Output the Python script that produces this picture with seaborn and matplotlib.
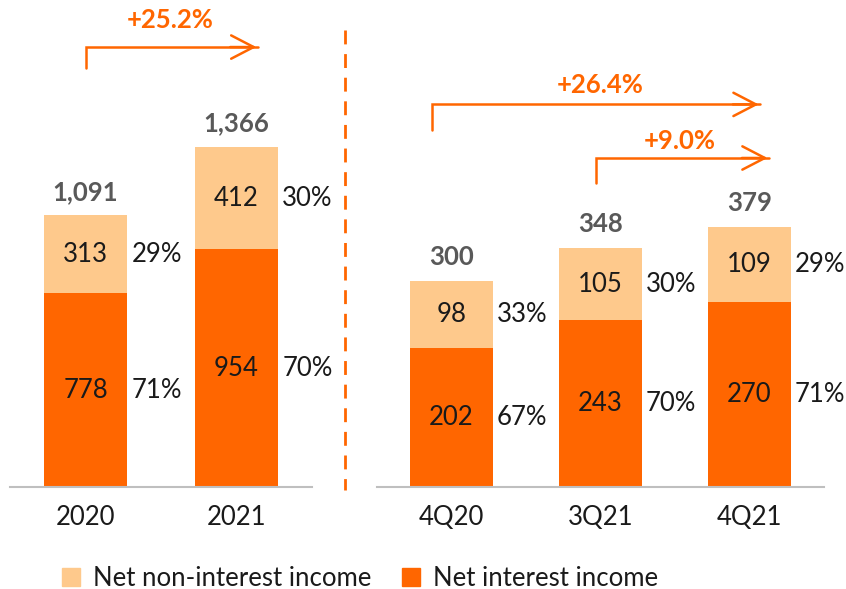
import numpy as np
import pandas as pd
import seaborn as sns
import matplotlib.pyplot as plt
from matplotlib.patches import Patch
from matplotlib.lines import Line2D

# data
years = ["2020", "2021"]
years_nii = [778, 954]
years_nonii = [313, 412]
quarters = ["4Q20", "3Q21", "4Q21"]
quarters_nii = [202, 243, 270]
quarters_nonii = [98, 105, 109]

dark = "#FF6600"
light = "#FEC98C"
grey = "#595959"
txt = "#1A1A1A"
FS = 18.5

sns.set_theme(style="white")
plt.rcParams["font.family"] = ["Lato", "DejaVu Sans"]

fig = plt.figure(figsize=(8.46, 5.89), dpi=100)
W, H = 846, 589


def px_axes(x0, x1, top, bottom):
    return fig.add_axes([x0 / W, 1 - bottom / H, (x1 - x0) / W, (bottom - top) / H])


ax1 = px_axes(10, 312, 0, 487)
ax2 = px_axes(377, 824, 0, 487)


def draw_panel(ax, cats, nii, nonii, ymax, width):
    df = pd.DataFrame({"cat": cats, "nii": nii, "nonii": nonii})
    df["total"] = df["nii"] + df["nonii"]
    sns.barplot(data=df, x="cat", y="total", color=light, width=width,
                saturation=1, ax=ax, linewidth=0)
    sns.barplot(data=df, x="cat", y="nii", color=dark, width=width,
                saturation=1, ax=ax, linewidth=0)
    ax.set_xlim(-0.5, len(cats) - 0.5)
    ax.set_ylim(0, ymax)
    ax.set_xlabel("")
    ax.set_ylabel("")
    ax.set_yticks([])
    for s in ["left", "right", "top"]:
        ax.spines[s].set_visible(False)
    ax.spines["bottom"].set_color("#BFBFBF")
    ax.spines["bottom"].set_linewidth(1.5)
    ax.tick_params(axis="x", which="major", length=0, pad=13,
                   labelsize=FS, labelcolor=txt)
    ax.set_xticks(np.arange(-0.5, len(cats)), minor=True)
    ax.tick_params(axis="x", which="minor", length=6, width=1.5,
                   color="#BFBFBF", direction="out")
    half = width / 2
    for i, row in df.iterrows():
        tot = row["total"]
        ax.text(i, row["nii"] / 2, f"{row['nii']:,}", ha="center", va="center",
                fontsize=FS, color=txt)
        ax.text(i, row["nii"] + row["nonii"] / 2, f"{row['nonii']:,}",
                ha="center", va="center", fontsize=FS, color=txt)
        ax.text(i + half + 0.025, row["nii"] / 2, f"{round(100 * row['nii'] / tot)}%",
                ha="left", va="center", fontsize=FS, color=txt)
        ax.text(i + half + 0.025, row["nii"] + row["nonii"] / 2,
                f"{round(100 * row['nonii'] / tot)}%",
                ha="left", va="center", fontsize=FS, color=txt)
        ax.annotate(f"{tot:,}", (i, tot), xytext=(0, 17),
                    textcoords="offset points", ha="center", va="center",
                    fontsize=FS, fontweight="bold", color=grey)


draw_panel(ax1, years, years_nii, years_nonii, 1956, 0.556)
draw_panel(ax2, quarters, quarters_nii, quarters_nonii, 709, 0.56)


def growth(ax, x0, x1, y0, y1, label, tx, ty):
    ax.plot([x0, x0, x1], [y0, y1, y1], color=dark, lw=1.8, clip_on=False,
            solid_joinstyle="miter")
    ax.annotate("", xy=(x1 + 0.01, y1), xytext=(x1 - 0.2, y1),
                arrowprops=dict(arrowstyle="->,head_length=1.35,head_width=0.7",
                                color=dark, lw=1.8), annotation_clip=False)
    ax.text(tx, ty, label, ha="center", va="center", fontsize=FS,
            fontweight="bold", color=dark, clip_on=False)


growth(ax1, 0, 1.14, 1683, 1767, "+25.2%", 0.56, 1875)
growth(ax2, -0.13, 2.07, 520, 557, "+26.4%", 1.0, 585)
growth(ax2, 0.97, 2.13, 442, 479, "+9.0%", 1.53, 504)

# divider
fig.add_artist(Line2D([345 / W, 345 / W], [1 - 30 / H, 1 - 490 / H],
                      color=dark, lw=2, linestyle=(0, (5, 3.5))))

handles = [Patch(color=light, label="Net non-interest income"),
           Patch(color=dark, label="Net interest income")]
fig.legend(handles=handles, loc="center left", ncol=2, frameon=False,
           bbox_to_anchor=(62 / W, 1 - 578 / H), fontsize=FS,
           handlelength=0.7, handleheight=0.7, handletextpad=0.5,
           columnspacing=1.2, borderpad=0, borderaxespad=0, labelcolor=txt)

fig.savefig("out.png", dpi=100)
